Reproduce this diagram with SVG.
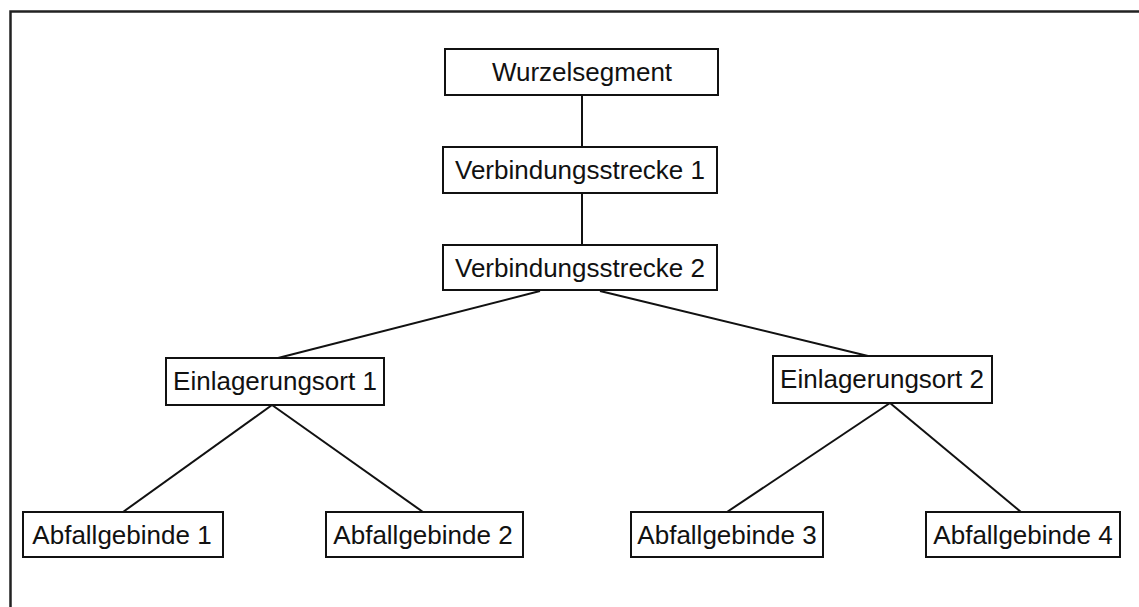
<svg xmlns="http://www.w3.org/2000/svg" width="1139" height="607" viewBox="0 0 1139 607">
<style>
.box{fill:#fff;stroke:#111;stroke-width:2}
.lbl{font-family:"Liberation Sans",Arial,sans-serif;font-size:26px;fill:#111;text-anchor:middle}
.edge{stroke:#111;stroke-width:2;fill:none}
</style>
<rect width="1139" height="607" fill="#fff"/>
<path d="M10.5,607 V11.5 H1139" fill="none" stroke="#222" stroke-width="2.5"/>
<g id="connectors">
<line class="edge" x1="582" y1="95" x2="582" y2="147"/>
<line class="edge" x1="582" y1="193" x2="582" y2="245"/>
<line class="edge" x1="540" y1="291" x2="278" y2="358"/>
<line class="edge" x1="600" y1="291" x2="868" y2="356"/>
<line class="edge" x1="272" y1="405" x2="123" y2="512"/>
<line class="edge" x1="272" y1="405" x2="423" y2="512"/>
<line class="edge" x1="890" y1="403" x2="727" y2="512"/>
<line class="edge" x1="890" y1="403" x2="1021" y2="512"/>
</g>
<g id="n-wurzel"><rect class="box" x="445" y="49" width="273" height="46"/><text class="lbl" x="582" y="81">Wurzelsegment</text></g>
<g id="n-vs1"><rect class="box" x="443" y="147" width="274" height="46"/><text class="lbl" x="580" y="179">Verbindungsstrecke 1</text></g>
<g id="n-vs2"><rect class="box" x="443" y="245" width="274" height="45"/><text class="lbl" x="580" y="277">Verbindungsstrecke 2</text></g>
<g id="n-e1"><rect class="box" x="166" y="358" width="218" height="47"/><text class="lbl" x="275" y="390">Einlagerungsort 1</text></g>
<g id="n-e2"><rect class="box" x="773" y="356" width="219" height="47"/><text class="lbl" x="882" y="388">Einlagerungsort 2</text></g>
<g id="n-a1"><rect class="box" x="23" y="512" width="200" height="45"/><text class="lbl" x="122" y="544">Abfallgebinde 1</text></g>
<g id="n-a2"><rect class="box" x="326" y="512" width="197" height="45"/><text class="lbl" x="423" y="544">Abfallgebinde 2</text></g>
<g id="n-a3"><rect class="box" x="631" y="512" width="192" height="45"/><text class="lbl" x="727" y="544">Abfallgebinde 3</text></g>
<g id="n-a4"><rect class="box" x="926" y="512" width="194" height="45"/><text class="lbl" x="1023" y="544">Abfallgebinde 4</text></g>
</svg>
